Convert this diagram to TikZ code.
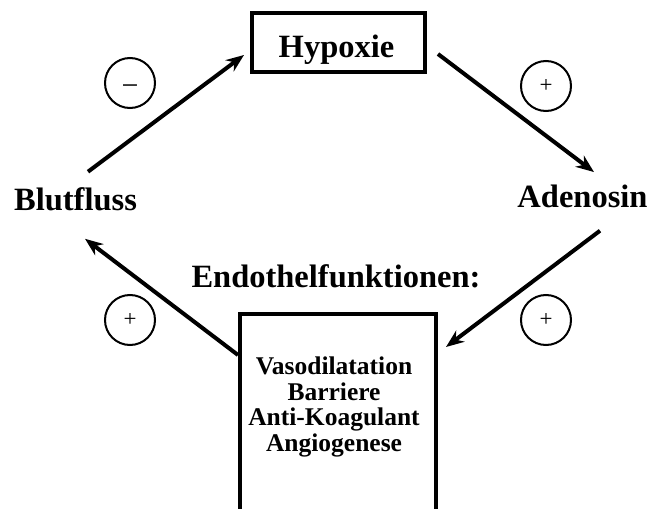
\documentclass[tikz,border=0pt]{standalone}
\usepackage{fontspec}
\setmainfont{Liberation Serif}
\usepackage{tikz}
\usetikzlibrary{arrows.meta}

\begin{document}
\begin{tikzpicture}[
    x=0.5pt, y=-0.5pt,
    lbl/.style={font=\bfseries\fontsize{16.25}{19}\selectfont, inner sep=0pt},
    items/.style={font=\bfseries\fontsize{12.75}{12.85}\selectfont, align=center, inner sep=0pt},
    frame/.style={rectangle, draw, line width=2pt, inner sep=0pt},
    sign/.style={circle, draw, line width=1pt, minimum size=25pt, inner sep=0pt, font=\fontsize{11.5}{12}\selectfont},
    arrow/.style={-{Stealth[length=9pt, width=7pt]}, line width=2pt}
]
    \useasboundingbox (0,0) rectangle (650,509);
    \clip (0,0) rectangle (650,509);

    \node[frame, minimum width=86.5pt, minimum height=29.5pt] (hyp) at (338.5,42.5) {};
    \node[lbl, anchor=base] (hyptxt) at (336.5,57) {Hypoxie};
    \node[lbl, anchor=base] (blut) at (75.5,210) {Blutfluss};
    \node[lbl, anchor=base] (aden) at (582.5,207) {Adenosin};
    \node[lbl, anchor=base] (endo) at (336,287) {Endothelfunktionen:};
    \node[frame, minimum width=98pt, minimum height=108pt] (fun) at (338,422) {};
    \node[items] (funtxt) at (334,407) {Vasodilatation\\Barriere\\Anti-Koagulant\\Angiogenese};

    \node[sign, font=\fontsize{15}{16}\selectfont, text height=12pt, text depth=0pt] (s1) at (130,83) {−};
    \node[sign] (s2) at (546,86) {+};
    \node[sign] (s3) at (546,320) {+};
    \node[sign] (s4) at (130,320) {+};

    \draw[arrow] ([xshift=6.25pt, yshift=7.5pt]blut.north) -- ([xshift=-3pt, yshift=-6.25pt]hyp.west);
    \draw[arrow] ([xshift=5.5pt, yshift=-5.75pt]hyp.east) -- ([xshift=5.75pt, yshift=6pt]aden.north);
    \draw[arrow] ([xshift=8.75pt, yshift=-11.5pt]aden.south) -- ([xshift=4pt, yshift=-17.5pt]fun.north east);
    \draw[arrow] ([yshift=-21.5pt]fun.north west) -- ([xshift=4.75pt, yshift=-14pt]blut.south);
\end{tikzpicture}
\end{document}
